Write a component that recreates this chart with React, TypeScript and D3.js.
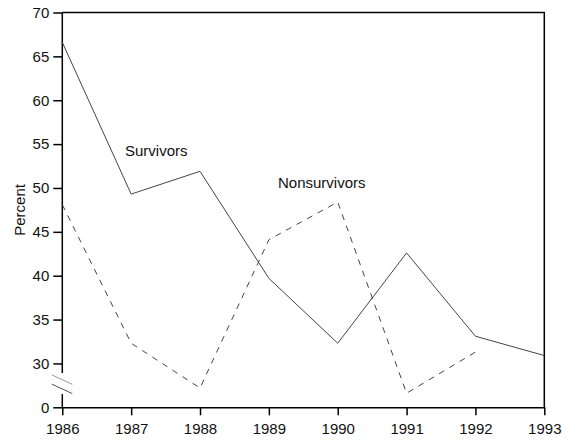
import React, { useEffect, useRef } from "react";
import * as d3 from "d3";

const years = [1986, 1987, 1988, 1989, 1990, 1991, 1992, 1993];
const survivors = [66.6, 49.3, 51.9, 39.7, 32.3, 42.6, 33.1, 30.9];
const nonsurvivorYears = [1986, 1987, 1988, 1989, 1990, 1991, 1992];
const nonsurvivors = [48.1, 32.3, 27.2, 44.1, 48.4, 26.6, 31.3];
const yTicks = [25, 30, 35, 40, 45, 50, 55, 60, 65, 70];
const yTickLabels = ["0", "30", "35", "40", "45", "50", "55", "60", "65", "70"];

let width = 572;
let height = 441;
let left = 62.3;
let right = 544.3;
let top = 12.5;
let bottom = 407.3;
let font = "Liberation Sans, Arial, sans-serif";

const App = () => {
  const ref = useRef<SVGSVGElement>(null);

  useEffect(() => {
    let svg = d3.select(ref.current);
    svg.selectAll("*").remove();

    let xScale = d3.scaleLinear().domain([1986, 1993]).range([left, right]);
    let yScale = d3.scaleLinear().domain([25, 70]).range([bottom, top]);

    // frame: top and right
    svg
      .append("path")
      .attr("d", `M${left},${top}H${right}V${bottom}`)
      .attr("fill", "none")
      .attr("stroke", "#000")
      .attr("stroke-width", 1.5);

    // x axis
    let xAxis = d3
      .axisBottom(xScale)
      .tickValues(years)
      .tickFormat(d3.format("d"))
      .tickSize(8)
      .tickPadding(8)
      .tickSizeOuter(0);
    let gx = svg
      .append("g")
      .attr("transform", "translate(0," + bottom + ")")
      .call(xAxis);
    gx.selectAll("path, line").attr("stroke", "#000").attr("stroke-width", 1.5);
    gx.selectAll("text")
      .attr("font-family", font)
      .attr("font-size", 15)
      .attr("fill", "#111");

    // y axis with a break between 0 and 30
    let yAxis = d3
      .axisLeft(yScale)
      .tickValues(yTicks)
      .tickFormat((d, i) => yTickLabels[i])
      .tickSize(9)
      .tickPadding(4)
      .tickSizeOuter(0);
    let gy = svg
      .append("g")
      .attr("transform", "translate(" + left + ",0)")
      .call(yAxis);
    gy.select(".domain").remove();
    gy.selectAll("line").attr("stroke", "#000").attr("stroke-width", 1.5);
    gy.selectAll("text")
      .attr("font-family", font)
      .attr("font-size", 15)
      .attr("fill", "#111");

    let breakTop = yScale(26.2);
    let breakBottom = yScale(26.5) + 22;
    svg
      .append("line")
      .attr("x1", left)
      .attr("x2", left)
      .attr("y1", top)
      .attr("y2", yScale(28.9))
      .attr("stroke", "#000")
      .attr("stroke-width", 1.5);
    svg
      .append("line")
      .attr("x1", left)
      .attr("x2", left)
      .attr("y1", yScale(26.5))
      .attr("y2", bottom)
      .attr("stroke", "#000")
      .attr("stroke-width", 1.5);
    [0, 9.3].forEach((off, i) => {
      svg
        .append("line")
        .attr("x1", left - 10.5)
        .attr("x2", left + 10)
        .attr("y1", yScale(28.7) + off)
        .attr("y2", yScale(28.7) + off + 9.5)
        .attr("stroke", i === 0 ? "#999" : "#555")
        .attr("stroke-width", 1);
    });

    // data lines
    let survivorLine = d3
      .line<number>()
      .x((d, i) => xScale(years[i]))
      .y((d) => yScale(d));
    svg
      .append("path")
      .attr("d", survivorLine(survivors))
      .attr("fill", "none")
      .attr("stroke", "#444")
      .attr("stroke-width", 1);

    let nonsurvivorLine = d3
      .line<number>()
      .x((d, i) => xScale(nonsurvivorYears[i]))
      .y((d) => yScale(d));
    svg
      .append("path")
      .attr("d", nonsurvivorLine(nonsurvivors))
      .attr("fill", "none")
      .attr("stroke", "#444")
      .attr("stroke-width", 1)
      .attr("stroke-dasharray", "6,6");

    // labels
    svg
      .append("text")
      .attr("x", 125)
      .attr("y", 156)
      .attr("font-family", font)
      .attr("font-size", 15)
      .attr("fill", "#111")
      .text("Survivors");
    svg
      .append("text")
      .attr("x", 278)
      .attr("y", 188)
      .attr("font-family", font)
      .attr("font-size", 15)
      .attr("fill", "#111")
      .text("Nonsurvivors");
    svg
      .append("text")
      .attr("transform", "translate(25," + (top + bottom) / 2 + ") rotate(-90)")
      .attr("text-anchor", "middle")
      .attr("font-family", font)
      .attr("font-size", 15)
      .attr("fill", "#111")
      .text("Percent");
  }, []);

  return (
    <svg
      ref={ref}
      width={width}
      height={height}
      style={{ position: "absolute", left: 0, top: 0, background: "#fff" }}
    ></svg>
  );
};

export default App;
